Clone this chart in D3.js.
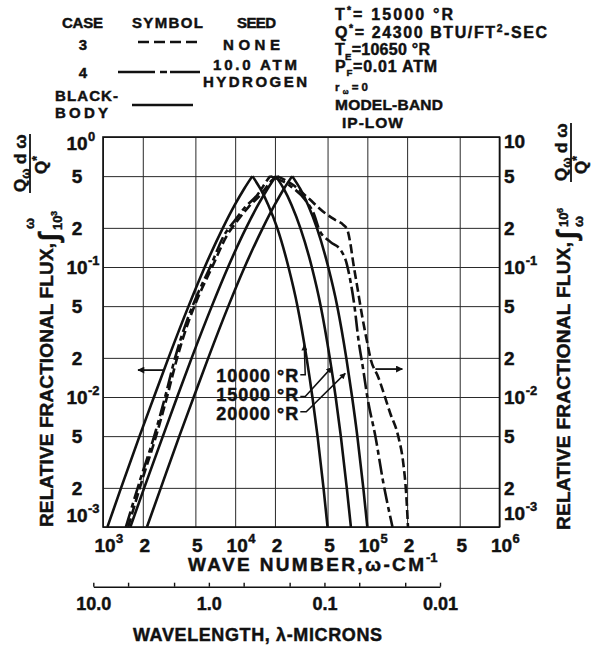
<!DOCTYPE html>
<html>
<head>
<meta charset="utf-8">
<script src="https://cdn.jsdelivr.net/npm/d3@7"></script>
<style>
  body { margin: 0; background: #fff; }
  svg { display: block; font-family: "Liberation Sans", Arial, sans-serif; font-weight: bold; }
  text { fill: #111; stroke: #111; stroke-width: 0.45px; }
</style>
</head>
<body>
<svg id="chart" width="596" height="648"></svg>
<script>
// ---- axis ticks ----
const wavenumberTicks = [1e3, 2e3, 5e3, 1e4, 2e4, 5e4, 1e5, 2e5, 5e5, 1e6];
const wavenumberTickBase = ["10", "2", "5", "10", "2", "5", "10", "2", "5", "10"];
const wavenumberTickExp  = ["3", "", "", "4", "", "", "5", "", "", "6"];
const fluxTicks = [1, 0.5, 0.2, 0.1, 0.05, 0.02, 0.01, 0.005, 0.002, 0.001];
const fluxTickBase = ["10", "5", "2", "10", "5", "2", "10", "5", "2", "10"];
const fluxTickExpLeft  = ["0", "", "", "-1", "", "", "-2", "", "", "-3"];
const fluxTickExpRight = ["", "", "", "-1", "", "", "-2", "", "", "-3"];
const wavelengthTicks = [10, 5, 2, 1, 0.5, 0.2, 0.1, 0.05, 0.02, 0.01];
const wavelengthLabels = ["10.0", "", "", "1.0", "", "", "0.1", "", "", "0.01"];

// ---- blackbody curves (wavenumber, cm^-1) ----
// rising branch: integral from 10^3 to w ; falling branch: integral from w to 10^6
const risingLevels  = [0.001, 0.002, 0.005, 0.01, 0.02, 0.05, 0.1, 0.2, 0.3, 0.4, 0.5];
const fallingLevels = [0.5, 0.4, 0.3, 0.2, 0.1, 0.05, 0.02, 0.01, 0.005, 0.002, 0.001];
const bb10000Rising  = [1080, 1370, 1890, 2430, 3130, 4440, 5890, 8080, 9930, 11700, 13500];
const bb10000Falling = [13500, 15500, 17800, 20800, 25300, 29600, 34700, 38400, 42000, 46600, 50000];
const bb15000Rising  = [1610, 2050, 2840, 3640, 4690, 6660, 8840, 12100, 14900, 17600, 20300];
const bb15000Falling = [20300, 23300, 26700, 31100, 38000, 44400, 52000, 57600, 63000, 69900, 75100];
const bb20000Rising  = [2150, 2740, 3780, 4860, 6260, 8880, 11800, 16200, 19900, 23400, 27000];
const bb20000Falling = [27000, 31000, 35600, 41500, 50600, 59200, 69300, 76700, 84000, 93200, 100000];

// ---- case 3 (no seed), dashed ----
const caseRisingLevels = [0.001, 0.0023, 0.005, 0.01, 0.02, 0.039, 0.056, 0.1, 0.176, 0.23, 0.289, 0.358, 0.467, 0.5];
const case3Rising = [1550, 1980, 2520, 3050, 3640, 4480, 5150, 6700, 8700, 10500, 12600, 15500, 19100, 20800];
const case3FallingW = [20800, 27500, 35100, 46400, 57200, 65800, 70600, 74300, 78300, 84000, 91700,
                       100000, 105400, 121000, 149000, 172000, 187000, 197500, 203000];
const case3FallingV = [0.5, 0.427, 0.345, 0.266, 0.23, 0.211, 0.193, 0.153, 0.107, 0.070, 0.041,
                       0.026, 0.020, 0.0142, 0.0075, 0.0049, 0.0031, 0.0017, 0.001];

// ---- case 4 (10.0 atm hydrogen seed), dash-dot ----
const case4Rising = [1490, 1910, 2440, 2950, 3510, 4330, 4980, 6470, 8260, 10000, 11900, 14700, 17500, 18400];
const case4FallingW = [18400, 26100, 33900, 39700, 43300, 52500, 63500, 69300, 74300, 79700, 85500,
                       93300, 100000, 115000, 132000, 155000];
const case4FallingV = [0.5, 0.42, 0.328, 0.251, 0.193, 0.156, 0.133, 0.109, 0.079, 0.051, 0.028,
                       0.016, 0.010, 0.005, 0.0022, 0.001];

// ---- annotations (wavenumber, flux) ----
const leftArrow  = [[2850, 0.0161], [1840, 0.0161]];
const rightArrow = [[115000, 0.0164], [184000, 0.0164]];
const tempLabels = ["10000 °R", "15000 °R", "20000 °R"];
const tempLabelAnchor = [[30000, 0.01305], [30000, 0.00932], [30000, 0.00667]];
const tempLeaders = [
  [[31100, 0.0148], [33900, 0.0148], [33300, 0.0251]],
  [[31100, 0.0101], [33900, 0.0101], [53800, 0.0169]],
  [[31100, 0.0077], [34500, 0.0077], [68100, 0.0152]]
];

const svg = d3.select("#chart");
const ink = "#111";

const x = d3.scaleLog().domain([1e3, 1e6]).range([103, 499.5]);
const y = d3.scaleLog().domain([1e-3, 1]).range([527, 137]);
const wl = d3.scaleLog().domain([10, 0.01]).range([93.3, 440]);

const defs = svg.append("defs");
defs.append("marker").attr("id", "headH")
  .attr("viewBox", "0 0 10 10").attr("refX", 9).attr("refY", 5)
  .attr("markerWidth", 9).attr("markerHeight", 7).attr("markerUnits", "userSpaceOnUse")
  .attr("orient", "auto")
  .append("path").attr("d", "M0,0 L10,5 L0,10 Z").attr("fill", ink);
defs.append("marker").attr("id", "headL")
  .attr("viewBox", "0 0 10 10").attr("refX", 9).attr("refY", 5)
  .attr("markerWidth", 11).attr("markerHeight", 6).attr("markerUnits", "userSpaceOnUse")
  .attr("orient", "auto")
  .append("path").attr("d", "M0,0 L10,5 L0,10 Z").attr("fill", ink);

// ---- grid ----
const gridX = svg.append("g").attr("transform", "translate(0,527)")
  .call(d3.axisBottom(x).tickValues(wavenumberTicks).tickSize(-390).tickFormat(""));
gridX.select(".domain").remove();
gridX.selectAll("line").attr("stroke", "#2a2a2a").attr("stroke-width", 1);

const gridY = svg.append("g").attr("transform", "translate(103,0)")
  .call(d3.axisLeft(y).tickValues(fluxTicks).tickSize(-396.5).tickFormat(""));
gridY.select(".domain").remove();
gridY.selectAll("line").attr("stroke", "#2a2a2a").attr("stroke-width", 1);

svg.append("rect").attr("x", 103).attr("y", 137).attr("width", 396.5).attr("height", 390)
  .attr("fill", "none").attr("stroke", ink).attr("stroke-width", 1.6);

// ---- curves ----
const line = d3.line().x(d => x(d[0])).y(d => y(d[1])).curve(d3.curveMonotoneX);
const pair = (ws, vs) => ws.map((w, i) => [w, vs[i]]);
function drawCurve(points, dash) {
  svg.append("path").datum(points).attr("d", line)
    .attr("fill", "none").attr("stroke", ink).attr("stroke-width", 2.6)
    .attr("stroke-linejoin", "round")
    .attr("stroke-dasharray", dash || null);
}
[[bb10000Rising, bb10000Falling], [bb15000Rising, bb15000Falling], [bb20000Rising, bb20000Falling]]
  .forEach(([r, f]) => {
    drawCurve(pair(r, risingLevels));
    drawCurve(pair(f, fallingLevels));
  });
drawCurve(pair(case3Rising, caseRisingLevels), "9,4");
drawCurve(pair(case3FallingW, case3FallingV), "9,4");
drawCurve(pair(case4Rising, caseRisingLevels), "16,4,5,4");
drawCurve(pair(case4FallingW, case4FallingV), "16,4,5,4");

// ---- arrows and temperature leaders ----
const straight = d3.line().x(d => x(d[0])).y(d => y(d[1]));
[leftArrow, rightArrow].forEach(a => {
  svg.append("path").datum(a).attr("d", straight).attr("fill", "none")
    .attr("stroke", ink).attr("stroke-width", 1.8).attr("marker-end", "url(#headH)");
});
tempLeaders.forEach(a => {
  svg.append("path").datum(a).attr("d", straight).attr("fill", "none")
    .attr("stroke", ink).attr("stroke-width", 1.5).attr("marker-end", "url(#headL)");
});
tempLabels.forEach((t, i) => {
  svg.append("text").attr("x", x(tempLabelAnchor[i][0])).attr("y", y(tempLabelAnchor[i][1]))
    .attr("text-anchor", "end").attr("font-size", 18)
    .attr("textLength", 82).attr("lengthAdjust", "spacing").text(t);
});

// ---- tick labels ----
function supLabel(xPos, yBase, base, exp, size, anchor) {
  const t = svg.append("text").attr("x", xPos).attr("y", yBase)
    .attr("font-size", size).attr("text-anchor", anchor).text(base);
  if (exp) {
    const w = t.node().getComputedTextLength();
    const left = anchor === "middle" ? xPos + w / 2 : xPos + w;
    svg.append("text").attr("x", left + 0.5).attr("y", yBase - size * 0.45)
      .attr("font-size", size * 0.68).text(exp);
  }
}
wavenumberTicks.forEach((v, i) => {
  supLabel(x(v) + 2, 552, wavenumberTickBase[i], wavenumberTickExp[i], 19, "middle");
});
fluxTicks.forEach((v, i) => {
  let off = 7;
  if (i === 0) off = 13;
  if (i === fluxTicks.length - 1) off = -5;
  supLabel(77, y(v) + off, fluxTickBase[i], fluxTickExpLeft[i], 19, "middle");
  let offR = 7;
  if (i === 0) offR = 11;
  if (i === fluxTicks.length - 1) offR = -7;
  supLabel(504, y(v) + offR, fluxTickBase[i], fluxTickExpRight[i], 19, "start");
});

// ---- wavelength axis ----
const wlAxis = svg.append("g").attr("transform", "translate(0,586.7)")
  .call(d3.axisBottom(wl).tickValues(wavelengthTicks).tickSize(-4).tickSizeOuter(0)
    .tickPadding(10.5).tickFormat((d, i) => wavelengthLabels[i]));
wlAxis.select(".domain").attr("stroke", ink).attr("stroke-width", 1.4);
wlAxis.selectAll("line").attr("stroke", ink).attr("stroke-width", 1.4);
wlAxis.selectAll("text").attr("font-size", 18).attr("font-family", null)
  .attr("fill", ink).attr("font-weight", "bold");

// ---- axis titles ----
const xTitle = svg.append("text").attr("x", 188).attr("y", 571).attr("font-size", 19)
  .attr("textLength", 236).attr("lengthAdjust", "spacing");
xTitle.append("tspan").text("WAVE NUMBER,ω-CM");
svg.append("text").attr("x", 426).attr("y", 562).attr("font-size", 13).text("-1");

svg.append("text").attr("x", 133).attr("y", 641).attr("font-size", 18)
  .attr("textLength", 249).attr("lengthAdjust", "spacing").text("WAVELENGTH, λ-MICRONS");

// rotated flux titles
function fluxTitle(ox, oy, len, lims, frac) {
  const g = svg.append("g").attr("transform", `translate(${ox},${oy}) rotate(-90)`);
  g.append("text").attr("x", 0).attr("y", 0).attr("font-size", 19)
    .attr("textLength", len).attr("lengthAdjust", "spacing").text("RELATIVE FRACTIONAL FLUX,");
  g.append("text").attr("x", lims.ix).attr("y", lims.iy).attr("font-size", 28).text("∫");
  g.append("text").attr("x", lims.ux).attr("y", lims.uy).attr("font-size", 13).text(lims.upper);
  if (lims.upperExp) g.append("text").attr("x", lims.ux + 14).attr("y", lims.uy - 5).attr("font-size", 9).text(lims.upperExp);
  g.append("text").attr("x", lims.lx).attr("y", lims.ly).attr("font-size", 13).text(lims.lower);
  if (lims.lowerExp) g.append("text").attr("x", lims.lx + 14).attr("y", lims.ly - 5).attr("font-size", 9).text(lims.lowerExp);
  // fraction Q_w dw / Q*
  const num = g.append("text").attr("x", frac.nx).attr("y", frac.ny).attr("font-size", 17);
  num.append("tspan").text("Q");
  num.append("tspan").attr("font-size", 12).attr("dy", 4).text("ω");
  num.append("tspan").attr("dy", -4).text(" d ω");
  g.append("line").attr("x1", frac.nx - 1).attr("x2", frac.nx + 58)
    .attr("y1", frac.by).attr("y2", frac.by).attr("stroke", ink).attr("stroke-width", 1.8);
  const den = g.append("text").attr("x", frac.dx).attr("y", frac.dy).attr("font-size", 17);
  den.append("tspan").text("Q");
  den.append("tspan").attr("font-size", 12).attr("dy", -6).text("*");
}
fluxTitle(53, 527, 284,
  { ix: 286, iy: 5, ux: 298, uy: -19, upper: "ω", lx: 297, ly: 9, lower: "10", lowerExp: "3" },
  { nx: 335, ny: -27, by: -23, dx: 353, dy: -6 });
fluxTitle(570, 530, 288,
  { ix: 291, iy: 6, ux: 303, uy: -2, upper: "10", upperExp: "6", lx: 303, ly: 13, lower: "ω" },
  { nx: 349, ny: -3, by: 1, dx: 356, dy: 17 });

// ---- header: legend ----
function label(txt, xPos, yBase, size, len, anchor) {
  const t = svg.append("text").attr("x", xPos).attr("y", yBase).attr("font-size", size)
    .attr("text-anchor", anchor || "start").text(txt);
  if (len) t.attr("textLength", len).attr("lengthAdjust", "spacing");
  return t;
}
label("CASE", 62, 28, 15, 41);
label("SYMBOL", 132, 28, 15, 71);
label("SEED", 237, 28, 15, 39);
label("3", 83, 50, 15, null, "middle");
label("NONE", 223, 50, 15, 57);
label("4", 83, 78, 15, null, "middle");
label("10.0 ATM", 213, 70, 15, 84);
label("HYDROGEN", 203, 87, 15, 104);
label("BLACK-", 55, 101, 15, 63);
label("BODY", 55, 118, 15, 53);

const legendLine = (x1, x2, yy, dash) => svg.append("line")
  .attr("x1", x1).attr("x2", x2).attr("y1", yy).attr("y2", yy)
  .attr("stroke", ink).attr("stroke-width", 2.6).attr("stroke-dasharray", dash || null);
legendLine(138, 202, 42, "11,5");
legendLine(118, 200, 72, "37,5,7,3");
legendLine(132, 193, 105);

// ---- header: conditions ----
function richLine(parts, xPos, yBase, size, len) {
  const t = svg.append("text").attr("x", xPos).attr("y", yBase).attr("font-size", size);
  parts.forEach(p => {
    const s = t.append("tspan").text(p.t);
    if (p.sup) s.attr("font-size", size * 0.65).attr("dy", -size * 0.4);
    if (p.sub) s.attr("font-size", size * 0.6).attr("dy", p.subDy || size * 0.3);
    if (p.back) s.attr("dy", p.back);
  });
  if (len) t.attr("textLength", len).attr("lengthAdjust", "spacing");
  return t;
}
richLine([{ t: "T" }, { t: "*", sup: true }, { t: "= 15000 °R", back: 6.4 }], 335, 20, 16, 118);
richLine([{ t: "Q" }, { t: "*", sup: true }, { t: "= 24300 BTU/FT", back: 6.4 }, { t: "2", sup: true },
          { t: "-SEC", back: 6.4 }], 335, 38, 16, 212);
richLine([{ t: "T" }, { t: "E", sub: true }, { t: "=10650 °R", back: -4.8 }], 335, 55, 16, 95);
richLine([{ t: "P" }, { t: "F", sub: true, subDy: 3.5 }, { t: "=0.01 ATM", back: -3.5 }], 335, 72, 16, 102);
richLine([{ t: "r" }, { t: "ω", sub: true, subDy: 3 }, { t: "=0", back: -3 }], 335, 91, 11.5, 33);
label("MODEL-BAND", 335, 109.5, 15.5, 108);
label("IP-LOW", 342, 128, 15.5, 61);
</script>
</body>
</html>
